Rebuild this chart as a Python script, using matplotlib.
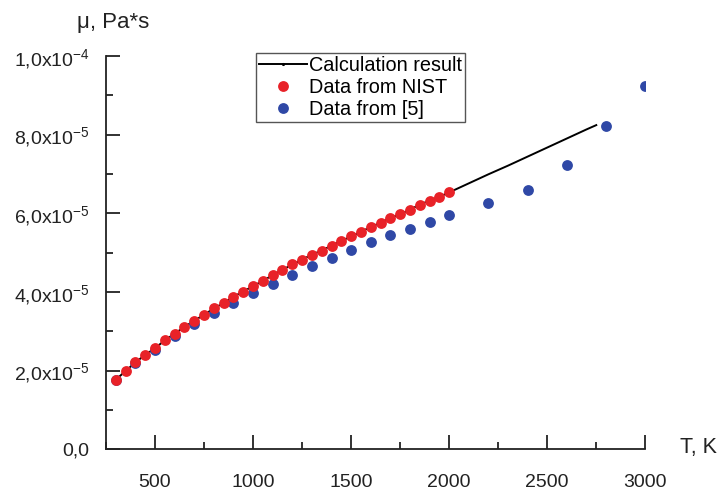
import numpy as np
import matplotlib
matplotlib.use('Agg')
import matplotlib.pyplot as plt
from matplotlib.ticker import MultipleLocator, FuncFormatter

plt.rcParams['font.family'] = ['Liberation Sans', 'DejaVu Sans']
plt.rcParams['mathtext.default'] = 'regular'

# NIST data (T in K, viscosity in 1e-6 Pa*s)
t_nist = [300, 350, 400, 450, 500, 550, 600, 650, 700, 750, 800, 850,
          900, 950, 1000, 1050, 1100, 1150, 1200, 1250, 1300, 1350, 1400, 1450,
          1500, 1550, 1600, 1650, 1700, 1750, 1800, 1850, 1900, 1950, 2000]
mu_nist = [17.7, 19.9, 22.1, 24.0, 25.7, 27.7, 29.4, 31.1, 32.7, 34.2, 35.8, 37.2,
           38.8, 40.1, 41.5, 42.8, 44.3, 45.6, 47.0, 48.2, 49.5, 50.5, 51.8, 53.0,
           54.1, 55.3, 56.5, 57.6, 58.8, 59.8, 60.9, 62.2, 63.2, 64.2, 65.3]

# data from [5]
t_ref5 = [300, 400, 500, 600, 700, 800, 900, 1000, 1100, 1200, 1300, 1400,
          1500, 1600, 1700, 1800, 1900, 2000, 2200, 2400, 2600, 2800, 3000]
mu_ref5 = [17.7, 22.0, 25.3, 28.7, 31.9, 34.6, 37.2, 39.7, 42.1, 44.3, 46.7, 48.7,
           50.7, 52.6, 54.4, 56.1, 57.9, 59.6, 62.6, 65.8, 72.3, 82.3, 92.4]

# calculation result
t_calc = t_nist + [2100, 2200, 2300, 2400, 2500, 2600, 2700, 2750]
mu_calc = mu_nist + [67.6, 69.9, 72.1, 74.4, 76.7, 79.0, 81.3, 82.4]

fig = plt.figure(figsize=(7.21, 4.9), dpi=100)
ax = fig.add_axes([0.147, 0.083, 0.748, 0.803])

ax.plot(t_calc, np.array(mu_calc) * 1e-6, color='black', lw=1.4, marker='.',
        markersize=2.5, markevery=list(range(len(t_nist))),
        label='Calculation result', zorder=2)
ax.plot(t_nist, np.array(mu_nist) * 1e-6, 'o', color='#e82228', markersize=7.8,
        markeredgewidth=0, label='Data from NIST', zorder=4)
ax.plot(t_ref5, np.array(mu_ref5) * 1e-6, 'o', color='#2f48a6', markersize=7.8,
        markeredgewidth=0, label='Data from [5]', zorder=3)

ax.set_xlim(250, 3000)
ax.set_ylim(0, 1e-4)

ax.xaxis.set_major_locator(MultipleLocator(500))
ax.xaxis.set_minor_locator(MultipleLocator(250))
ax.yaxis.set_major_locator(MultipleLocator(2e-5))
ax.yaxis.set_minor_locator(MultipleLocator(1e-5))


def yfmt(v, pos):
    if abs(v) < 1e-12:
        return '0,0'
    exp = int(np.floor(np.log10(abs(v)) + 1e-9))
    mant = v / 10 ** exp
    return ('%.1f' % mant).replace('.', ',') + 'x10$^{%d}$' % exp


ax.yaxis.set_major_formatter(FuncFormatter(yfmt))

for s in ['top', 'right']:
    ax.spines[s].set_visible(False)
for s in ['left', 'bottom']:
    ax.spines[s].set_linewidth(1.3)
    ax.spines[s].set_color('#222222')

ax.tick_params(which='major', direction='in', length=10, width=1.3, labelsize=14,
               colors='#222222', labelcolor='#222222')
ax.tick_params(which='minor', direction='in', length=5, width=1.3, colors='#222222')
ax.tick_params(axis='y', which='major', pad=12)
ax.tick_params(axis='x', which='major', pad=18)

fig.text(0.157, 0.955, 'μ, Pa*s', fontsize=16, ha='center', va='center', color='#222222')
fig.text(0.969, 0.086, 'T, K', fontsize=15.5, ha='center', va='center', color='#222222')

leg = ax.legend(loc='upper left', bbox_to_anchor=(0.279, 1.007), fontsize=14.3,
                frameon=True, fancybox=False, edgecolor='#555555', framealpha=1,
                borderpad=0.15, labelspacing=0.15, handlelength=2.4,
                handletextpad=0.1, borderaxespad=0)
leg.get_frame().set_linewidth(1.0)

fig.savefig('out.png', dpi=100)
